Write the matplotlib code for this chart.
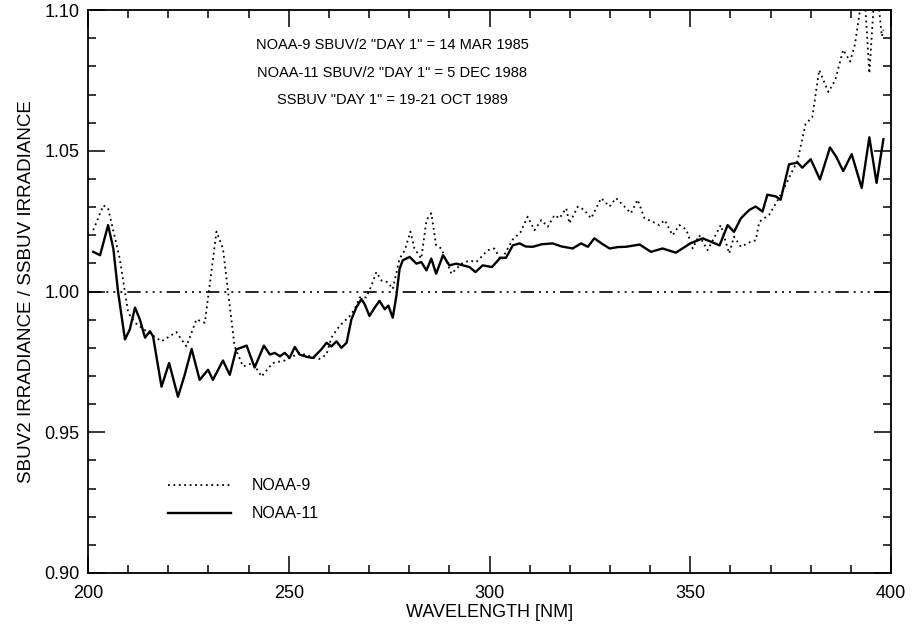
import matplotlib
matplotlib.use('Agg')
import matplotlib.pyplot as plt
import numpy as np

plt.rcParams['font.family'] = ['Liberation Sans', 'DejaVu Sans']

# NOAA-11 SBUV/2 ratio (solid)
wl_n11 = [201.3, 203.0, 205.0, 206.3, 207.5, 209.2, 210.4, 211.7, 212.9, 214.2,
          215.4, 216.2, 218.3, 220.2, 222.4, 224.0, 225.8, 227.8, 229.9, 231.1, 233.6,
          235.3, 236.9, 239.5, 241.5, 243.8, 245.3, 246.5, 247.8, 249.0, 250.2,
          251.5, 252.7, 254.5, 256.0, 258.1, 259.4, 260.6, 261.9, 263.1, 264.4,
          265.6, 266.8, 268.1, 268.9, 270.1, 271.4, 272.6, 273.9, 274.8, 275.9,
          276.8, 277.6, 278.4, 280.1, 281.8, 283.0, 284.3, 285.5, 286.7, 288.4,
          290.0, 291.7, 293.4, 295.0, 296.5, 298.3, 300.6, 302.7, 304.1, 305.8,
          307.5, 309.0, 310.8, 313.0, 315.7, 318.0, 320.7, 322.8, 324.5, 326.1,
          328.0, 329.9, 332.0, 334.0, 337.4, 340.2, 343.1, 346.4, 350.0, 353.1,
          357.3, 359.3, 360.9, 362.6, 364.7, 366.3, 368.0, 369.2, 371.3, 372.5,
          374.6, 376.7, 377.9, 380.0, 382.3, 384.8, 386.3, 388.1, 390.2, 392.7,
          394.6, 396.4, 398.1]
ratio_n11 = [1.0141, 1.0129, 1.0236, 1.0153, 0.9997, 0.9830, 0.9865, 0.9943, 0.9901, 0.9836,
             0.9859, 0.9841, 0.9662, 0.9746, 0.9626, 0.9700, 0.9796, 0.9686, 0.9722, 0.9686, 0.9755,
             0.9704, 0.9794, 0.9808, 0.9730, 0.9808, 0.9776, 0.9782, 0.9770, 0.9782, 0.9764,
             0.9803, 0.9776, 0.9768, 0.9764, 0.9794, 0.9818, 0.9805, 0.9823, 0.9800, 0.9818,
             0.9901, 0.9943, 0.9973, 0.9955, 0.9913, 0.9943, 0.9967, 0.9937, 0.9950, 0.9907,
             0.9985, 1.0081, 1.0111, 1.0123, 1.0099, 1.0105, 1.0075, 1.0117, 1.0063, 1.0129,
             1.0093, 1.0099, 1.0093, 1.0087, 1.0069, 1.0093, 1.0087, 1.0120, 1.0120, 1.0164,
             1.0171, 1.0160, 1.0159, 1.0168, 1.0171, 1.0160, 1.0153, 1.0171, 1.0159, 1.0189,
             1.0170, 1.0153, 1.0158, 1.0159, 1.0167, 1.0141, 1.0153, 1.0138, 1.0171, 1.0189,
             1.0164, 1.0236, 1.0212, 1.0260, 1.0290, 1.0302, 1.0284, 1.0344, 1.0338, 1.0326,
             1.0452, 1.0458, 1.0440, 1.0470, 1.0398, 1.0512, 1.0480, 1.0428, 1.0488, 1.0368,
             1.0548, 1.0386, 1.0541]

# NOAA-9 SBUV/2 ratio (dotted)
wl_n9 = [201.3, 203.8, 205.0, 207.9, 210.0, 211.7, 214.6, 218.3, 222.0, 224.5,
         227.0, 229.1, 232.0, 233.6, 236.5, 238.6, 241.1, 243.2, 246.0, 249.0,
         252.7, 255.2, 257.5, 259.4, 260.6, 262.3, 263.5, 265.2, 266.4, 267.7,
         269.3, 270.6, 271.8, 273.1, 274.7, 275.9, 277.6, 278.9, 280.3, 281.3,
         283.0, 284.3, 285.5, 286.7, 288.0, 290.5, 293.0, 295.0, 296.7, 299.6,
         301.2, 302.9, 305.8, 307.7, 309.5, 311.2, 312.9, 314.5, 316.2, 317.4,
         319.1, 319.9, 322.0, 323.6, 325.3, 327.8, 329.9, 331.5, 333.2, 335.2,
         336.9, 338.6, 340.6, 342.3, 343.6, 345.6, 347.3, 349.0, 350.6, 352.2,
         354.3, 357.6, 359.7, 360.9, 362.6, 365.1, 366.3, 367.2, 369.6, 372.1,
         373.8, 375.0, 376.7, 378.7, 380.4, 382.1, 384.4, 386.1, 388.1, 389.8,
         391.0, 392.3, 393.3, 394.6, 395.6, 396.5, 397.7, 398.1]
ratio_n9 = [1.0218, 1.0306, 1.0296, 1.0117, 0.9925, 0.9889, 0.9859, 0.9823, 0.9856, 0.9805,
            0.9901, 0.9889, 1.0213, 1.0153, 0.9805, 0.9734, 0.9746, 0.9698, 0.9746, 0.9755,
            0.9782, 0.9770, 0.9760, 0.9776, 0.9836, 0.9871, 0.9890, 0.9913, 0.9937, 0.9979,
            0.9979, 1.0021, 1.0069, 1.0039, 1.0033, 1.0009, 1.0117, 1.0147, 1.0213, 1.0153,
            1.0117, 1.0254, 1.0278, 1.0164, 1.0153, 1.0063, 1.0099, 1.0110, 1.0105, 1.0147,
            1.0153, 1.0111, 1.0185, 1.0210, 1.0266, 1.0218, 1.0254, 1.0230, 1.0272, 1.0260,
            1.0296, 1.0242, 1.0302, 1.0290, 1.0260, 1.0332, 1.0302, 1.0332, 1.0308, 1.0278,
            1.0326, 1.0260, 1.0248, 1.0236, 1.0254, 1.0200, 1.0236, 1.0220, 1.0153, 1.0200,
            1.0147, 1.0236, 1.0135, 1.0195, 1.0159, 1.0177, 1.0182, 1.0248, 1.0272, 1.0332,
            1.0380, 1.0416, 1.0464, 1.0595, 1.0620, 1.0787, 1.0709, 1.0751, 1.0859, 1.0817,
            1.0877, 1.1003, 1.1080, 1.0775, 1.1000, 1.1080, 1.0907, 1.0930]

notes = ['NOAA-9 SBUV/2 "DAY 1" = 14 MAR 1985',
         'NOAA-11 SBUV/2 "DAY 1" = 5 DEC 1988',
         'SSBUV "DAY 1" = 19-21 OCT 1989']

fig = plt.figure(figsize=(9.15, 6.3), dpi=100)
ax = fig.add_axes([0.0962, 0.0905, 0.8776, 0.8935])

ax.plot(wl_n9, ratio_n9, color='black', lw=1.3, linestyle=(0, (1, 2)), label='NOAA-9')
ax.plot(wl_n11, ratio_n11, color='black', lw=1.7, label='NOAA-11')
ax.plot([200, 400], [1.0, 1.0], color='black', lw=1.2,
        linestyle=(0, (8, 3, 1.2, 3, 1.2, 3, 1.2, 3)))

ax.set_xlim(200, 400)
ax.set_ylim(0.90, 1.10)
ax.set_xticks([200, 250, 300, 350, 400])
ax.set_yticks([0.90, 0.95, 1.00, 1.05, 1.10])
ax.set_xticks(np.arange(200, 401, 10), minor=True)
ax.set_yticks(np.arange(0.90, 1.101, 0.01), minor=True)
ax.set_yticklabels(['0.90', '0.95', '1.00', '1.05', '1.10'])
ax.tick_params(which='both', direction='in', top=True, right=True, width=1.1, labelsize=13)
ax.tick_params(axis='x', pad=9)
ax.tick_params(axis='y', pad=6)
ax.tick_params(which='major', length=12)
ax.tick_params(which='minor', length=6)
for s in ax.spines.values():
    s.set_linewidth(1.3)

ax.set_xlabel('WAVELENGTH [NM]', fontsize=13, labelpad=1)
ax.set_ylabel('SBUV2 IRRADIANCE / SSBUV IRRADIANCE', fontsize=13.5, labelpad=7)

for i, t in enumerate(notes):
    ax.text(0.379, 0.938 - 0.049 * i, t, transform=ax.transAxes, ha='center', va='center', fontsize=10.5)

ax.legend(loc='upper left', bbox_to_anchor=(0.099, 0.168), frameon=False, fontsize=11.5,
          handlelength=4.0, handletextpad=1.3, labelspacing=0.8, borderpad=0, borderaxespad=0)

plt.savefig('out.png', dpi=100)
